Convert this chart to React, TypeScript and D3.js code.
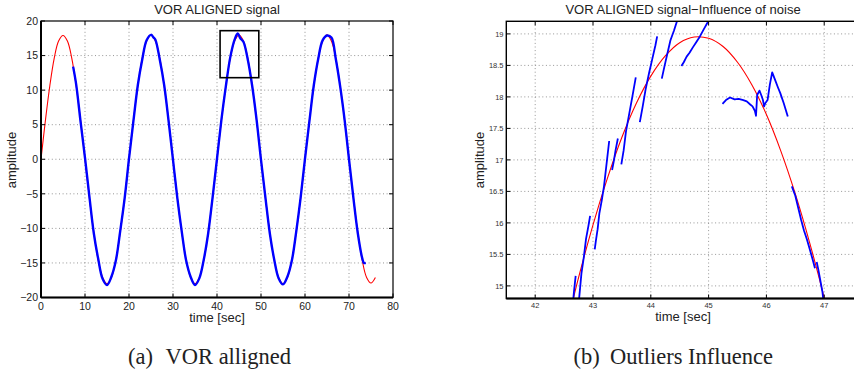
import React from "react";
import * as d3 from "d3";

// ---------- Data: left panel ----------
const redLeftT = [0,1,2,3,4,5,6,7,8,9,10,11,12,13,14,15,16,17,18,19,20,21,22,23,24,25,26,27,28,29,30,31,32,33,34,35,36,37,38,39,40,41,42,43,44,45,46,47,48,49,50,51,52,53,54,55,56,57,58,59,60,61,62,63,64,65,66,67,68,69,70,71,72,73,74,75,76];
const redLeftV = [0,5.6,10.6,14.6,17.1,17.9,17.1,14.6,10.6,5.6, 0,-5.6,-10.6,-14.6,-17.1,-18,-17.1,-14.6,-10.6,-5.6,
  0,5.6,10.6,14.6,17.1,18,17.1,14.6,10.6,5.6, 0,-5.6,-10.6,-14.6,-17.1,-18,-17.1,-14.6,-10.6,-5.6,
  0,5.6,10.6,14.6,17.1,18,17.1,14.6,10.6,5.6, 0,-5.6,-10.6,-14.6,-17.1,-18,-17.1,-14.6,-10.6,-5.6,
  0,5.6,10.6,14.6,17.1,18,17.1,14.6,10.6,5.6, 0,-5.6,-10.6,-14.6,-17.1,-17.9,-17.1];

const blueLeftT = [7.3,8,9,10,11,12,13,14,15,16,17,18,19,20,21,22,23,24,25,25.6,26,27,28,29,30,31,32,33,34,35,36,37,38,39,40,41,42,43,44,44.7,45.3,46,47,48,49,50,51,52,53,54,55,56,57,58,59,60,61,62,63,64,65,66,67,68,69,70,71,72,73,73.4,73.8];
const blueLeftV = [13.4,10.8,5.4,0.2,-5.4,-10.7,-14.4,-17.3,-18.2,-17.0,-14.7,-10.4,-5.7,0.1,5.5,10.7,14.4,17.2,18.0,17.6,17.3,14.4,10.7,5.5,-0.1,-5.7,-10.5,-14.7,-17.0,-18.2,-17.2,-14.5,-10.7,-5.5,0.1,5.7,10.5,14.7,17.3,18.2,17.5,17.0,14.4,10.6,5.7,-0.1,-5.5,-10.7,-14.5,-17.2,-18.1,-17.0,-14.7,-10.5,-5.6,0.1,5.5,10.7,14.5,17.2,17.9,17.6,14.5,10.5,5.7,0,-5.6,-10.7,-14.3,-15.0,-15.0];

const zoomBoxT = [40.7, 49.5];
const zoomBoxV = [11.8, 18.6];

const leftXTicks = [0,10,20,30,40,50,60,70,80];
const leftYTicks = [-20,-15,-10,-5,0,5,10,15,20];

// ---------- Data: right panel ----------
const redRightT = [42.5,42.75,43.0,43.25,43.5,43.75,44.0,44.25,44.5,44.75,45.0,45.25,45.5,45.75,46.0,46.25,46.5,46.75,47.0,47.25];
const redRightV = [14.19,15.13,15.97,16.71,17.36,17.90,18.33,18.65,18.86,18.95,18.93,18.80,18.55,18.19,17.72,17.14,16.46,15.68,14.81,13.83];

const seg1 = [[42.64,14.6],[42.67,14.9],[42.70,15.16]];
const seg2 = [[42.74,14.6],[42.80,15.2],[42.84,15.45],[42.88,15.75],[42.92,15.95],[42.95,16.11]];
const seg3 = [[43.03,15.58],[43.05,15.72],[43.08,15.9],[43.11,16.15],[43.15,16.35],[43.19,16.58],[43.23,16.9],[43.28,17.30]];
const seg4 = [[43.33,16.84],[43.36,16.98],[43.39,17.15],[43.43,17.34]];
const seg5 = [[43.49,16.93],[43.53,17.15],[43.57,17.45],[43.62,17.7],[43.68,18.0],[43.74,18.31]];
const seg6 = [[43.81,17.60],[43.86,17.85],[43.91,18.12],[43.97,18.38],[44.03,18.62],[44.08,18.82],[44.11,18.96]];
const seg7 = [[44.19,18.29],[44.24,18.5],[44.29,18.7],[44.34,18.9],[44.40,19.05],[44.47,19.25]];
const seg8 = [[44.53,18.49],[44.57,18.55],[44.62,18.64],[44.67,18.70],[44.73,18.79],[44.78,18.86],[44.85,18.96],[44.92,19.08],[44.97,19.16],[45.02,19.25]];
const seg9 = [[45.24,17.89],[45.30,17.95],[45.37,17.99],[45.45,17.96],[45.52,17.97],[45.60,17.95],[45.66,17.93],[45.72,17.88],[45.76,17.85],[45.80,17.78],[45.82,17.70],[45.84,18.03],[45.88,18.10],[45.91,18.03],[45.94,17.95],[45.96,17.85],[45.98,17.90],[46.02,17.95],[46.06,18.2],[46.10,18.39],[46.15,18.27],[46.20,18.15],[46.24,18.06],[46.30,17.9],[46.37,17.69]];
const seg10 = [[46.44,16.58],[46.50,16.43],[46.55,16.24],[46.60,16.05],[46.65,15.88],[46.70,15.74],[46.75,15.58],[46.80,15.42],[46.84,15.28]];
const seg11 = [[46.87,15.38],[46.90,15.25],[46.94,15.05],[46.97,14.9],[47.0,14.65]];
const blueRightSegments = [seg1, seg2, seg3, seg4, seg5, seg6, seg7, seg8, seg9, seg10, seg11];

const rightXTicks = [42,43,44,45,46,47];
const rightYTicks = [15,15.5,16,16.5,17,17.5,18,18.5,19];

const fmt = (v: number) => (v < 0 ? "\u2212" + Math.abs(v) : String(v));

const SANS = "'Liberation Sans', Arial, Helvetica, sans-serif";
const SERIF = "'Liberation Serif', 'Times New Roman', serif";

export default function App() {
  // left panel scales
  const xL = d3.scaleLinear().domain([0, 80]).range([41, 393]);
  const yL = d3.scaleLinear().domain([-20, 20]).range([297.5, 21]);
  // right panel scales
  const xR = d3.scaleLinear().domain([41.5, 47.55]).range([506.3, 856]);
  const yR = d3.scaleLinear().domain([14.8, 19.2]).range([298.5, 21.3]);

  const redLeft = d3.line<number>().x((_, i) => xL(redLeftT[i])).y((d) => yL(d)).curve(d3.curveCatmullRom)(redLeftV) || "";
  const blueLeft = d3.line<number>().x((_, i) => xL(blueLeftT[i])).y((d) => yL(d)).curve(d3.curveCatmullRom)(blueLeftV) || "";
  const redRight = d3.line<number>().x((_, i) => xR(redRightT[i])).y((d) => yR(d)).curve(d3.curveCatmullRom)(redRightV) || "";
  const segLine = d3.line<number[]>().x((d) => xR(d[0])).y((d) => yR(d[1]));

  const [l0, l1] = xL.range();
  const [lb, lt] = yL.range();
  const [r0, r1] = xR.range();
  const [rb, rt] = yR.range();

  const grid = { stroke: "#8a8a8a", strokeWidth: 0.9, strokeDasharray: "1,2.6" };
  const tl = 4;

  return (
    <svg width={854} height={374} style={{ position: "absolute", left: 0, top: 0, background: "#fff" }}>
      <defs>
        <clipPath id="clipL"><rect x={l0} y={lt} width={l1 - l0} height={lb - lt} /></clipPath>
        <clipPath id="clipR"><rect x={r0} y={rt} width={r1 - r0} height={rb - rt} /></clipPath>
      </defs>

      {/* ---------------- Left panel ---------------- */}
      <g>
        {leftXTicks.slice(1, -1).map((t) => (
          <line key={"gx" + t} x1={xL(t)} x2={xL(t)} y1={lt} y2={lb} {...grid} />
        ))}
        {leftYTicks.slice(1, -1).map((t) => (
          <line key={"gy" + t} x1={l0} x2={l1} y1={yL(t)} y2={yL(t)} {...grid} />
        ))}
        <g clipPath="url(#clipL)">
          <path d={redLeft} fill="none" stroke="#ff0000" strokeWidth={1.1} />
          <path d={blueLeft} fill="none" stroke="#0000ff" strokeWidth={2.4} />
        </g>
        <rect x={xL(zoomBoxT[0])} y={yL(zoomBoxV[1])} width={xL(zoomBoxT[1]) - xL(zoomBoxT[0])} height={yL(zoomBoxV[0]) - yL(zoomBoxV[1])} fill="none" stroke="#000" strokeWidth={1.6} />
        {leftXTicks.map((t) => (
          <g key={"tx" + t}>
            <line x1={xL(t)} x2={xL(t)} y1={lb} y2={lb - tl} stroke="#000" />
            <line x1={xL(t)} x2={xL(t)} y1={lt} y2={lt + tl} stroke="#000" />
            <text x={xL(t)} y={309.5} fontSize={10.5} fontFamily={SANS} textAnchor="middle" fill="#222">{fmt(t)}</text>
          </g>
        ))}
        {leftYTicks.map((t) => (
          <g key={"ty" + t}>
            <line x1={l0} x2={l0 + tl} y1={yL(t)} y2={yL(t)} stroke="#000" />
            <line x1={l1} x2={l1 - tl} y1={yL(t)} y2={yL(t)} stroke="#000" />
            <text x={38} y={yL(t) + 3.7} fontSize={10.5} fontFamily={SANS} textAnchor="end" fill="#222">{fmt(t)}</text>
          </g>
        ))}
        <rect x={l0} y={lt} width={l1 - l0} height={lb - lt} fill="none" stroke="#000" strokeWidth={1.2} />
        <line x1={l0} x2={l0} y1={lt} y2={lb} stroke="#000" strokeWidth={2} />
        <line x1={l0} x2={l1} y1={lb} y2={lb} stroke="#000" strokeWidth={2} />
        <text x={217} y={13.5} fontSize={13} fontFamily={SANS} textAnchor="middle" fill="#222">VOR ALIGNED signal</text>
        <text x={217} y={322} fontSize={13} fontFamily={SANS} textAnchor="middle" fill="#222">time [sec]</text>
        <text transform={`translate(16,160) rotate(-90)`} fontSize={13} fontFamily={SANS} textAnchor="middle" fill="#222">amplitude</text>
        <text x={128} y={364} fontSize={22.5} fontFamily={SERIF} fill="#222">(a)</text>
        <text x={165.5} y={364} fontSize={22.5} fontFamily={SERIF} fill="#222">VOR alligned</text>
      </g>

      {/* ---------------- Right panel ---------------- */}
      <g>
        {rightXTicks.map((t) => (
          <line key={"rgx" + t} x1={xR(t)} x2={xR(t)} y1={rt} y2={rb} {...grid} />
        ))}
        {rightYTicks.map((t) => (
          <line key={"rgy" + t} x1={r0} x2={r1} y1={yR(t)} y2={yR(t)} {...grid} />
        ))}
        <g clipPath="url(#clipR)">
          <path d={redRight} fill="none" stroke="#ff0000" strokeWidth={1.1} />
          {blueRightSegments.map((s, i) => (
            <path key={"bs" + i} d={segLine(s) || ""} fill="none" stroke="#0000ff" strokeWidth={1.8} strokeLinejoin="round" />
          ))}
        </g>
        {rightXTicks.map((t) => (
          <g key={"rtx" + t}>
            <line x1={xR(t)} x2={xR(t)} y1={rb} y2={rb - tl} stroke="#000" />
            <line x1={xR(t)} x2={xR(t)} y1={rt} y2={rt + tl} stroke="#000" />
            <text x={xR(t)} y={308} fontSize={7.5} fontFamily={SANS} textAnchor="middle" fill="#333">{fmt(t)}</text>
          </g>
        ))}
        {rightYTicks.map((t) => (
          <g key={"rty" + t}>
            <line x1={r0} x2={r0 + tl} y1={yR(t)} y2={yR(t)} stroke="#000" />
            <text x={503.5} y={yR(t) + 2.7} fontSize={7.5} fontFamily={SANS} textAnchor="end" fill="#333">{fmt(t)}</text>
          </g>
        ))}
        <rect x={r0} y={rt} width={r1 - r0} height={rb - rt} fill="none" stroke="#000" strokeWidth={1.4} />
        <line x1={r0} x2={r1} y1={rb} y2={rb} stroke="#000" strokeWidth={2} />
        <text x={683} y={13.5} fontSize={13} fontFamily={SANS} textAnchor="middle" fill="#222">VOR ALIGNED signal{"\u2212"}Influence of noise</text>
        <text x={683} y={320.5} fontSize={13} fontFamily={SANS} textAnchor="middle" fill="#222">time [sec]</text>
        <text transform={`translate(483.5,160) rotate(-90)`} fontSize={13} fontFamily={SANS} textAnchor="middle" fill="#222">amplitude</text>
        <text x={573.5} y={364} fontSize={22.5} fontFamily={SERIF} fill="#222">(b)</text>
        <text x={610} y={364} fontSize={22.5} fontFamily={SERIF} fill="#222">Outliers Influence</text>
      </g>
    </svg>
  );
}
